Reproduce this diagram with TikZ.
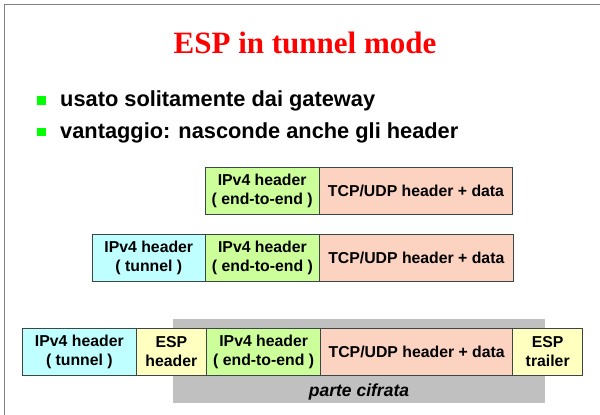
\documentclass[tikz,border=0pt]{standalone}
\usepackage{fontspec}
\setmainfont{Liberation Sans}
\newfontfamily\titlefont{Liberation Serif}
\definecolor{framegray}{HTML}{808080}
\definecolor{boxline}{HTML}{3C4646}
\definecolor{ccyan}{HTML}{BFFFFF}
\definecolor{cyellow}{HTML}{FFFFC0}
\definecolor{cgreen}{HTML}{CCFF99}
\definecolor{cpink}{HTML}{FCD2C0}
\definecolor{cgray}{HTML}{C0C0C0}
\definecolor{bulletgreen}{HTML}{00FF00}
\begin{document}
\begin{tikzpicture}[x=1pt,y=-1pt,
  pkt/.style={draw=boxline, line width=0.9pt, inner sep=0pt, outer sep=0pt,
    anchor=north west, align=center, minimum height=47pt,
    font=\bfseries\fontsize{15.8}{18.5}\selectfont},
  bulletsq/.style={fill=bulletgreen, inner sep=0pt, minimum size=8.7pt},
  bullettext/.style={anchor=base west, inner sep=0pt,
    font=\bfseries\fontsize{21.8}{24}\selectfont},
  cipher/.style={fill=cgray, inner sep=0pt, outer sep=0pt, anchor=north west}]
\useasboundingbox (0,0) rectangle (600,415);
\fill[white] (0,0) rectangle (600,415);
% slide frame
\draw[framegray, line width=1.6pt] (4.5,416) -- (4.5,4.5) -- (601,4.5);

% title
\node[anchor=base, inner sep=0pt, text=red,
  font=\titlefont\bfseries\fontsize{31}{36}\selectfont] (title) at (305,53.3) {ESP in tunnel mode};

% bullet list
\node[bulletsq] (b1) at (41.7,100.3) {};
\node[bullettext] (t1) at (60,106.7) {usato solitamente dai gateway};
\node[bulletsq] (b2) at (41.7,132) {};
\node[bullettext] (t2) at (60,138.3) {vantaggio: nasconde anche gli header};

% original packet
\node[pkt, fill=cgreen, minimum width=114.3pt] (r1ip) at (205,167.3) {IPv4 header\\( end-to-end )};
\node[pkt, fill=cpink, minimum width=193.4pt] (r1data) at (r1ip.north east) {TCP/UDP header + data};

% packet with outer IP header
\node[pkt, fill=ccyan, minimum width=113pt] (r2tun) at (92.3,234.3) {IPv4 header\\( tunnel )};
\node[pkt, fill=cgreen, minimum width=114.3pt] (r2ip) at (r2tun.north east) {IPv4 header\\( end-to-end )};
\node[pkt, fill=cpink, minimum width=193.4pt] (r2data) at (r2ip.north east) {TCP/UDP header + data};

% encrypted region
\node[cipher, minimum width=372.3pt, minimum height=84.3pt] (enc) at (172.7,319) {};
\node[anchor=base, inner sep=0pt, font=\bfseries\itshape\fontsize{17.5}{20}\selectfont]
  (enclabel) at (359,396) {parte cifrata};

% ESP tunnel-mode packet
\node[pkt, fill=ccyan, minimum width=113.3pt] (r3tun) at (22.7,328.3) {IPv4 header\\( tunnel )};
\node[pkt, fill=cyellow, minimum width=70.7pt] (r3esph) at (r3tun.north east) {ESP\\header};
\node[pkt, fill=cgreen, minimum width=114pt] (r3ip) at (r3esph.north east) {IPv4 header\\( end-to-end )};
\node[pkt, fill=cpink, minimum width=192pt] (r3data) at (r3ip.north east) {TCP/UDP header + data};
\node[pkt, fill=cyellow, minimum width=70pt] (r3espt) at (r3data.north east) {ESP\\trailer};
\end{tikzpicture}
\end{document}
